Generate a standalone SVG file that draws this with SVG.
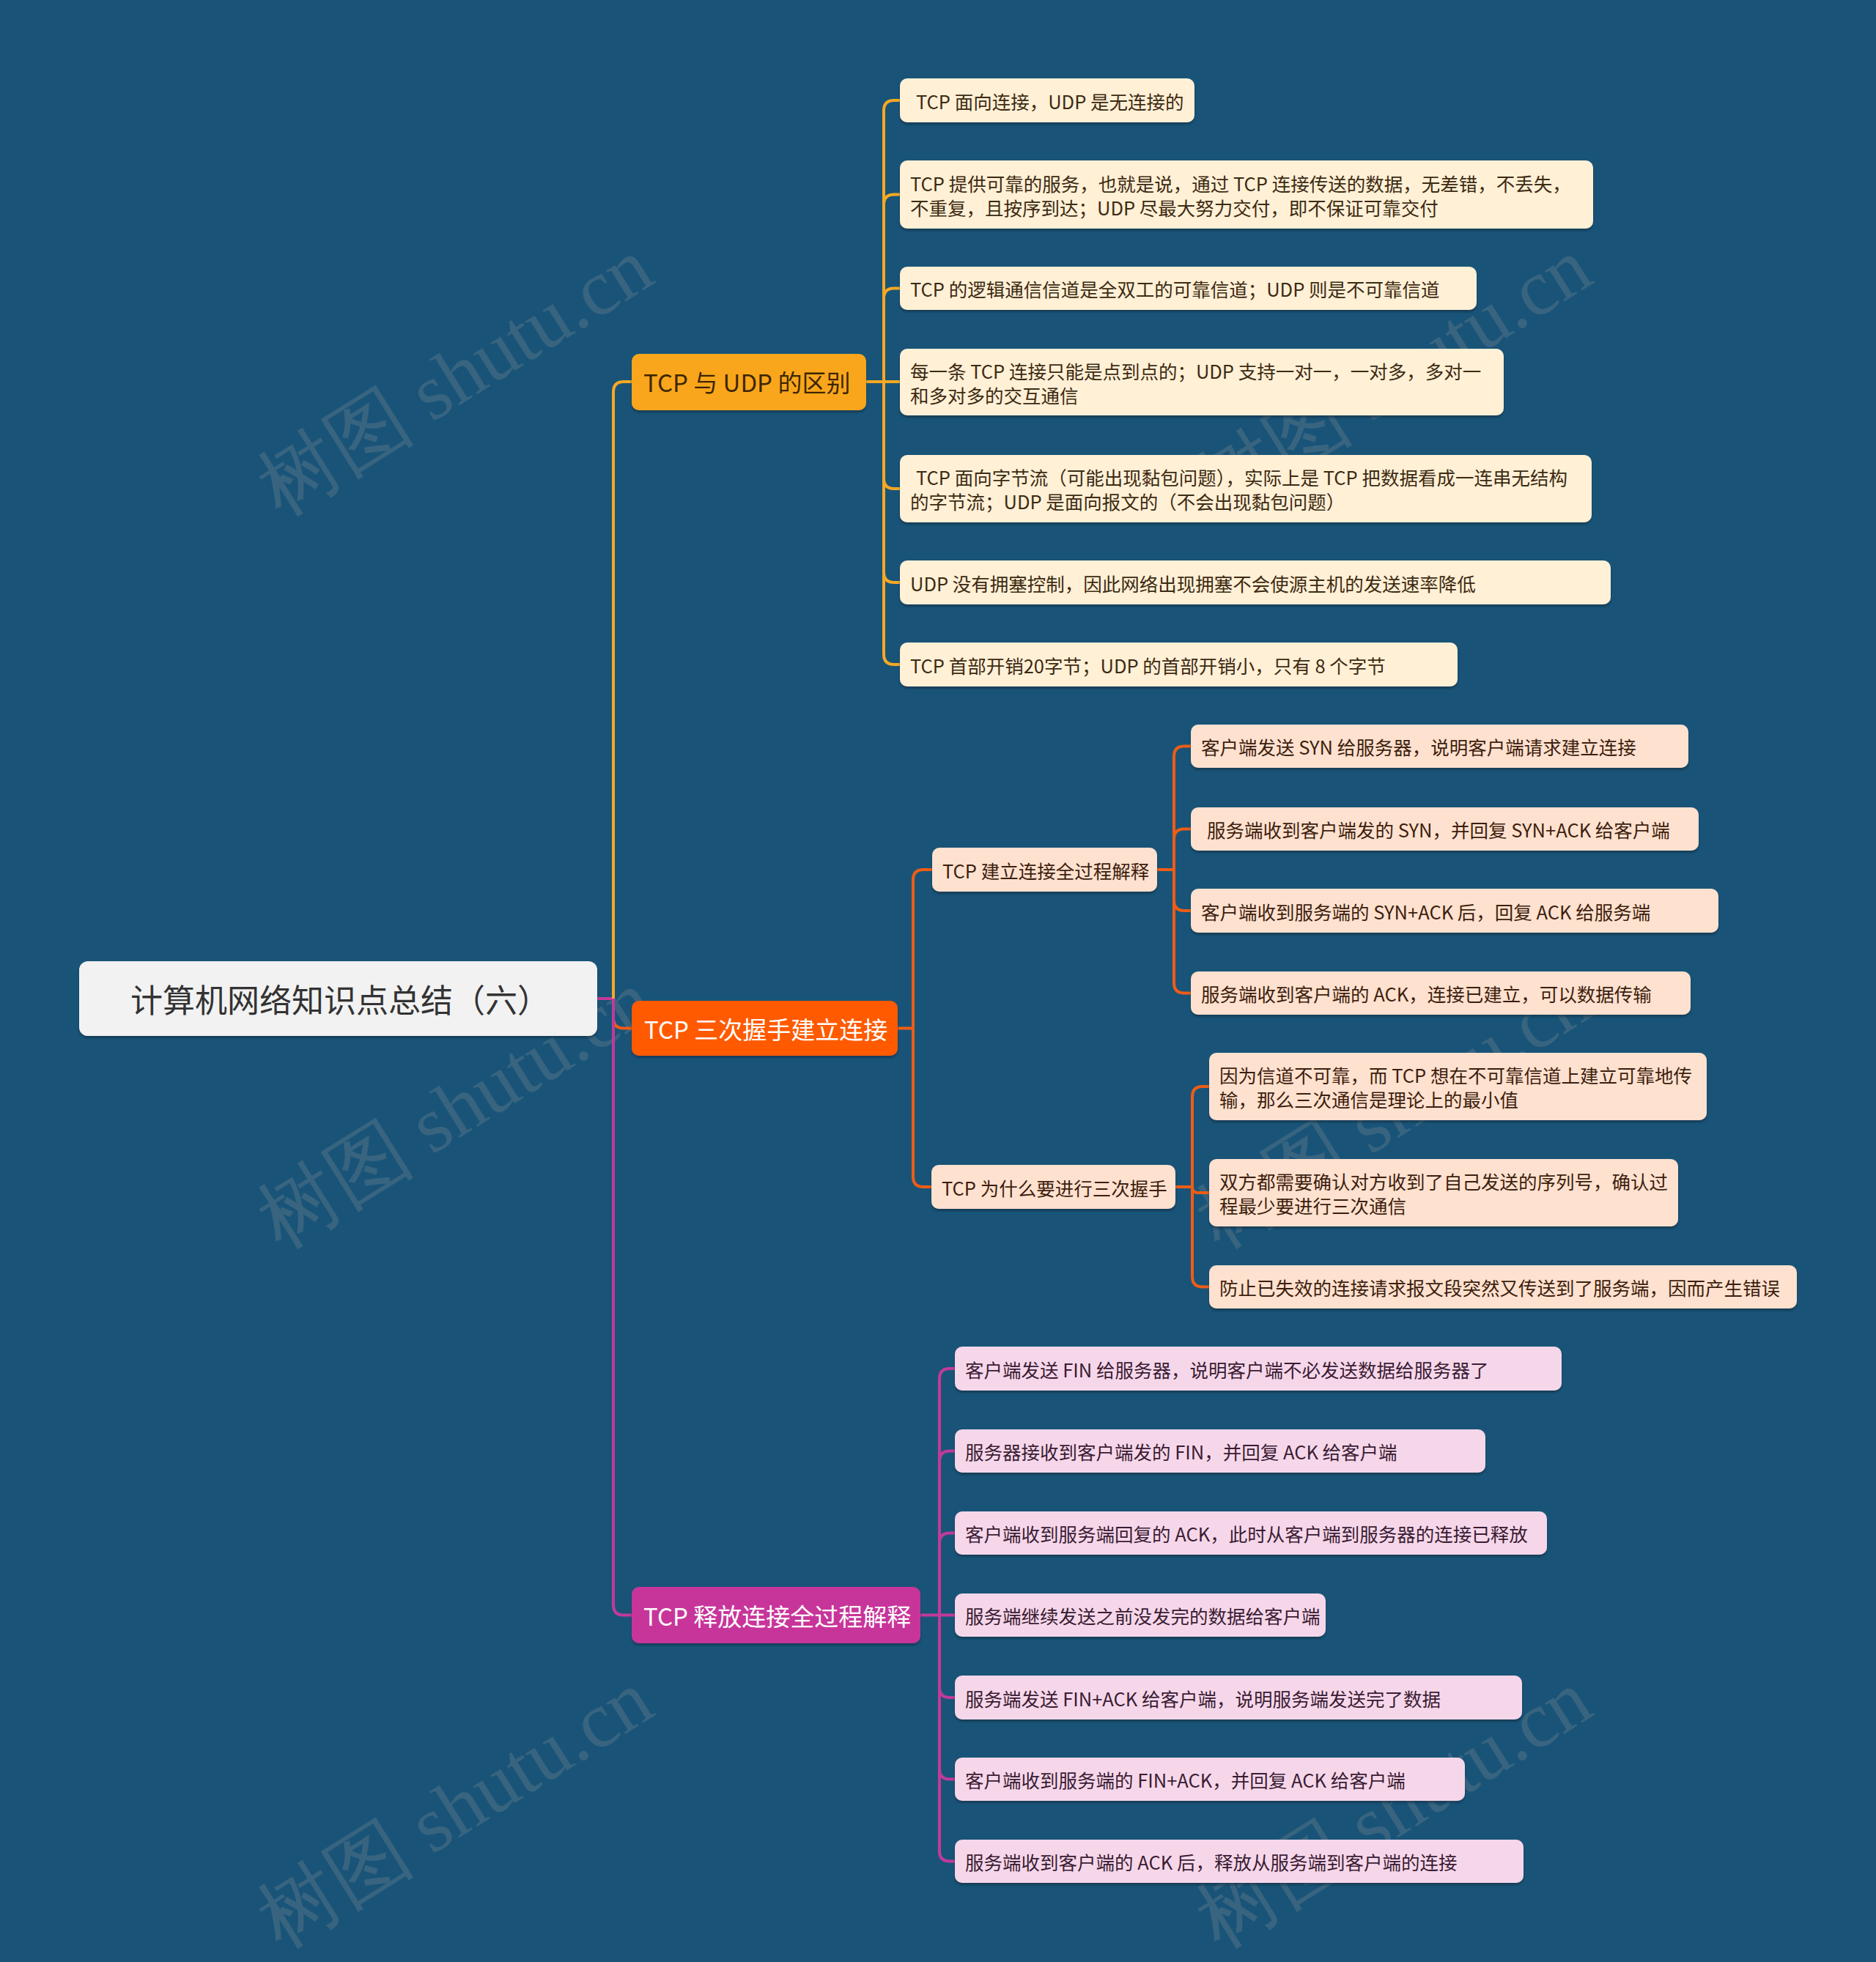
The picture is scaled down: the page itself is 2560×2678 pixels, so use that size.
<svg xmlns="http://www.w3.org/2000/svg" width="2560" height="2678" viewBox="0 0 2560 2678">
<defs>
<filter id="sh" x="-5%" y="-20%" width="110%" height="150%">
<feDropShadow dx="0" dy="3" stdDeviation="1.5" flood-color="#0a2a40" flood-opacity="0.6"/>
</filter>
<style>
text{font-family:"Noto Sans CJK SC","Noto Sans",sans-serif;dominant-baseline:central}
.root rect{fill:#f2f2f2}
.root text{font-size:44px;fill:#333333}
.l1 text{font-size:33px}
.card{filter:url(#sh)}
.c1{fill:#fff0d6}
.c2{fill:#ffe1cf}
.c3{fill:#f6d7ea}
.t1{font-size:25.5px;fill:#3d2a12}
.t2{font-size:25.5px;fill:#3d1e0e}
.t3{font-size:25.5px;fill:#3a1c33}
.ly{fill:none;stroke:#f7a823;stroke-width:4}
.lo{fill:none;stroke:#ee5d16;stroke-width:4}
.lm{fill:none;stroke:#c23a9a;stroke-width:4}
.wm{font-family:"Liberation Serif",serif;font-size:108px;fill:#9a9a9a;opacity:0.24;dominant-baseline:auto}
</style>
</defs>
<rect x="0" y="0" width="2560" height="2678" fill="#195478"/>

<g id="watermarks">
<text class="wm" x="640" y="545" text-anchor="middle" transform="rotate(-32 640 545)">树图 shutu.cn</text>
<text class="wm" x="1921" y="545" text-anchor="middle" transform="rotate(-32 1921 545)">树图 shutu.cn</text>
<text class="wm" x="640" y="1545" text-anchor="middle" transform="rotate(-32 640 1545)">树图 shutu.cn</text>
<text class="wm" x="1921" y="1545" text-anchor="middle" transform="rotate(-32 1921 1545)">树图 shutu.cn</text>
<text class="wm" x="640" y="2500" text-anchor="middle" transform="rotate(-32 640 2500)">树图 shutu.cn</text>
<text class="wm" x="1921" y="2500" text-anchor="middle" transform="rotate(-32 1921 2500)">树图 shutu.cn</text>
</g>

<g id="connectors">
<path class="lm" d="M815,1363 H837"/>
<path class="ly" d="M837,1363 V535 Q837,521 851,521 H862"/>
<path class="lo" d="M837,1363 V1389.5 Q837,1403.5 851,1403.5 H862"/>
<path class="lm" d="M837,1363 V2190.5 Q837,2204.5 851,2204.5 H862"/>

<path class="ly" d="M1182,521 H1228"/>
<path class="ly" d="M1206,521 V151 Q1206,137 1220,137 H1228"/>
<path class="ly" d="M1206,521 V279.5 Q1206,265.5 1220,265.5 H1228"/>
<path class="ly" d="M1206,521 V407.5 Q1206,393.5 1220,393.5 H1228"/>
<path class="ly" d="M1206,521 V653 Q1206,667 1220,667 H1228"/>
<path class="ly" d="M1206,521 V781 Q1206,795 1220,795 H1228"/>
<path class="ly" d="M1206,521 V893 Q1206,907 1220,907 H1228"/>

<path class="lo" d="M1225,1403.5 H1246"/>
<path class="lo" d="M1246,1403.5 V1201 Q1246,1187 1260,1187 H1272"/>
<path class="lo" d="M1246,1403.5 V1606 Q1246,1620 1260,1620 H1272"/>

<path class="lo" d="M1579,1187 H1602"/>
<path class="lo" d="M1602,1187 V1032.5 Q1602,1018.5 1616,1018.5 H1625"/>
<path class="lo" d="M1602,1187 V1145.5 Q1602,1131.5 1616,1131.5 H1625"/>
<path class="lo" d="M1602,1187 V1229 Q1602,1243 1616,1243 H1625"/>
<path class="lo" d="M1602,1187 V1341.5 Q1602,1355.5 1616,1355.5 H1625"/>

<path class="lo" d="M1604,1620 H1627"/>
<path class="lo" d="M1627,1620 V1497 Q1627,1483 1641,1483 H1650"/>
<path class="lo" d="M1627,1620 Q1627,1628 1635,1628 H1650"/>
<path class="lo" d="M1627,1620 V1742.5 Q1627,1756.5 1641,1756.5 H1650"/>

<path class="lm" d="M1256,2204.5 H1303"/>
<path class="lm" d="M1282,2204.5 V1882 Q1282,1868 1296,1868 H1303"/>
<path class="lm" d="M1282,2204.5 V1994.5 Q1282,1980.5 1296,1980.5 H1303"/>
<path class="lm" d="M1282,2204.5 V2106.5 Q1282,2092.5 1296,2092.5 H1303"/>
<path class="lm" d="M1282,2204.5 V2303 Q1282,2317 1296,2317 H1303"/>
<path class="lm" d="M1282,2204.5 V2414.5 Q1282,2428.5 1296,2428.5 H1303"/>
<path class="lm" d="M1282,2204.5 V2526.5 Q1282,2540.5 1296,2540.5 H1303"/>
</g>

<g id="root" class="root">
<rect class="card" x="108" y="1312" width="707" height="102" rx="12"/>
<text x="464" y="1363" text-anchor="middle">计算机网络知识点总结（六）</text>
</g>

<g id="n1" class="l1">
<rect class="card" x="862" y="483" width="320" height="77" rx="10" fill="#f9a61c"/>
<text x="878" y="521" fill="#3d2600">TCP 与 UDP 的区别</text>
</g>
<g id="n2" class="l1">
<rect class="card" x="862" y="1366" width="363" height="75" rx="10" fill="#ff5a00"/>
<text x="879" y="1403.5" fill="#ffffff">TCP 三次握手建立连接</text>
</g>
<g id="n3" class="l1">
<rect class="card" x="862" y="2166" width="394" height="77" rx="10" fill="#c8369a"/>
<text x="878" y="2204.5" fill="#ffffff">TCP 释放连接全过程解释</text>
</g>

<g id="n1a"><rect class="card c1" x="1228" y="107" width="402" height="60" rx="10"/><text class="t1" x="1250" y="137">TCP 面向连接，UDP 是无连接的</text></g>
<g id="n1b"><rect class="card c1" x="1228" y="219" width="946" height="93" rx="10"/><text class="t1" x="1242" y="249">TCP 提供可靠的服务，也就是说，通过 TCP 连接传送的数据，无差错，不丢失，</text><text class="t1" x="1242" y="282">不重复，且按序到达；UDP 尽最大努力交付，即不保证可靠交付</text></g>
<g id="n1c"><rect class="card c1" x="1228" y="364" width="787" height="59" rx="10"/><text class="t1" x="1242" y="393.5">TCP 的逻辑通信信道是全双工的可靠信道；UDP 则是不可靠信道</text></g>
<g id="n1d"><rect class="card c1" x="1228" y="476" width="824" height="91" rx="10"/><text class="t1" x="1242" y="505">每一条 TCP 连接只能是点到点的；UDP 支持一对一，一对多，多对一</text><text class="t1" x="1242" y="538">和多对多的交互通信</text></g>
<g id="n1e"><rect class="card c1" x="1228" y="621" width="944" height="92" rx="10"/><text class="t1" x="1250" y="650.5">TCP 面向字节流（可能出现黏包问题），实际上是 TCP 把数据看成一连串无结构</text><text class="t1" x="1242" y="683.5">的字节流；UDP 是面向报文的（不会出现黏包问题）</text></g>
<g id="n1f"><rect class="card c1" x="1228" y="765" width="970" height="60" rx="10"/><text class="t1" x="1242" y="795">UDP 没有拥塞控制，因此网络出现拥塞不会使源主机的发送速率降低</text></g>
<g id="n1g"><rect class="card c1" x="1228" y="877" width="761" height="60" rx="10"/><text class="t1" x="1242" y="907">TCP 首部开销20字节；UDP 的首部开销小，只有 8 个字节</text></g>

<g id="n2a"><rect class="card c2" x="1272" y="1157" width="307" height="60" rx="10"/><text class="t2" x="1286" y="1187">TCP 建立连接全过程解释</text></g>
<g id="n2a1"><rect class="card c2" x="1625" y="989" width="679" height="59" rx="10"/><text class="t2" x="1639" y="1018.5">客户端发送 SYN 给服务器，说明客户端请求建立连接</text></g>
<g id="n2a2"><rect class="card c2" x="1625" y="1102" width="693" height="59" rx="10"/><text class="t2" x="1647" y="1131.5">服务端收到客户端发的 SYN，并回复 SYN+ACK 给客户端</text></g>
<g id="n2a3"><rect class="card c2" x="1625" y="1213" width="720" height="60" rx="10"/><text class="t2" x="1639" y="1243">客户端收到服务端的 SYN+ACK 后，回复 ACK 给服务端</text></g>
<g id="n2a4"><rect class="card c2" x="1625" y="1326" width="682" height="59" rx="10"/><text class="t2" x="1639" y="1355.5">服务端收到客户端的 ACK，连接已建立，可以数据传输</text></g>

<g id="n2b"><rect class="card c2" x="1271" y="1590" width="333" height="60" rx="10"/><text class="t2" x="1285" y="1620">TCP 为什么要进行三次握手</text></g>
<g id="n2b1"><rect class="card c2" x="1650" y="1437" width="679" height="92" rx="10"/><text class="t2" x="1664" y="1466.5">因为信道不可靠，而 TCP 想在不可靠信道上建立可靠地传</text><text class="t2" x="1664" y="1499.5">输，那么三次通信是理论上的最小值</text></g>
<g id="n2b2"><rect class="card c2" x="1650" y="1582" width="640" height="92" rx="10"/><text class="t2" x="1664" y="1611.5">双方都需要确认对方收到了自己发送的序列号，确认过</text><text class="t2" x="1664" y="1644.5">程最少要进行三次通信</text></g>
<g id="n2b3"><rect class="card c2" x="1650" y="1727" width="802" height="59" rx="10"/><text class="t2" x="1664" y="1756.5">防止已失效的连接请求报文段突然又传送到了服务端，因而产生错误</text></g>

<g id="n3a"><rect class="card c3" x="1303" y="1838" width="828" height="60" rx="10"/><text class="t3" x="1317" y="1868">客户端发送 FIN 给服务器，说明客户端不必发送数据给服务器了</text></g>
<g id="n3b"><rect class="card c3" x="1303" y="1951" width="724" height="59" rx="10"/><text class="t3" x="1317" y="1980.5">服务器接收到客户端发的 FIN，并回复 ACK 给客户端</text></g>
<g id="n3c"><rect class="card c3" x="1303" y="2063" width="808" height="59" rx="10"/><text class="t3" x="1317" y="2092.5">客户端收到服务端回复的 ACK，此时从客户端到服务器的连接已释放</text></g>
<g id="n3d"><rect class="card c3" x="1303" y="2175" width="506" height="59" rx="10"/><text class="t3" x="1317" y="2204.5">服务端继续发送之前没发完的数据给客户端</text></g>
<g id="n3e"><rect class="card c3" x="1303" y="2287" width="774" height="60" rx="10"/><text class="t3" x="1317" y="2317">服务端发送 FIN+ACK 给客户端，说明服务端发送完了数据</text></g>
<g id="n3f"><rect class="card c3" x="1303" y="2399" width="696" height="59" rx="10"/><text class="t3" x="1317" y="2428.5">客户端收到服务端的 FIN+ACK，并回复 ACK 给客户端</text></g>
<g id="n3g"><rect class="card c3" x="1303" y="2511" width="776" height="59" rx="10"/><text class="t3" x="1317" y="2540.5">服务端收到客户端的 ACK 后，释放从服务端到客户端的连接</text></g>
</svg>
